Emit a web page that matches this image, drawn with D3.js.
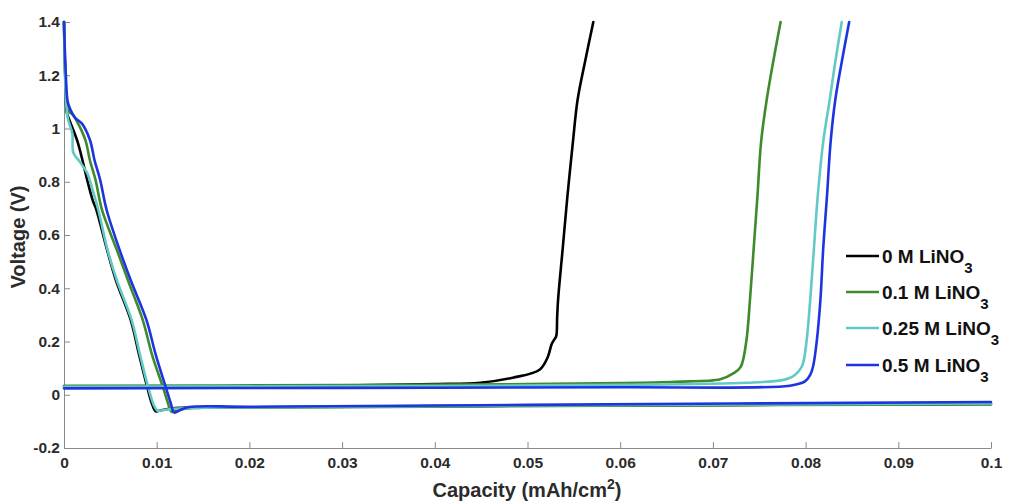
<!DOCTYPE html>
<html>
<head>
<meta charset="utf-8">
<script src="https://cdn.jsdelivr.net/npm/d3@7"></script>
<style>
  body { margin: 0; background: #fff; }
  text { font-family: "Liberation Sans", Arial, Helvetica, sans-serif; font-weight: bold; }
</style>
</head>
<body>
<svg width="1011" height="502"></svg>
<script>
// tick values
const xTicks = [0, 0.01, 0.02, 0.03, 0.04, 0.05, 0.06, 0.07, 0.08, 0.09, 0.1];
const xTickLabels = ['0', '0.01', '0.02', '0.03', '0.04', '0.05', '0.06', '0.07', '0.08', '0.09', '0.1'];
const yTicks = [-0.2, 0, 0.2, 0.4, 0.6, 0.8, 1, 1.2, 1.4];
const yTickLabels = ['-0.2', '0', '0.2', '0.4', '0.6', '0.8', '1', '1.2', '1.4'];

// series names (legend order)
const seriesNames = ['0 M LiNO', '0.1 M LiNO', '0.25 M LiNO', '0.5 M LiNO'];

// discharge curves [capacity, voltage]
const dis0 = [[0,1.4],[0.0002,1.12],[0.0003,1.06],[0.0006,1.03],[0.0014,0.957],[0.002,0.88],[0.0025,0.807],[0.0031,0.73],[0.0035,0.694],
  [0.0046,0.55],[0.0056,0.43],[0.0072,0.28],[0.0081,0.15],[0.009,0.026],[0.0095,-0.035],[0.0099,-0.062],[0.0105,-0.058],[0.012,-0.05],
  [0.02,-0.047],[0.05,-0.041],[0.1,-0.035]];
const dis01 = [[0,1.4],[0.0002,1.15],[0.0004,1.07],[0.001,1.05],[0.0015,1.02],[0.0023,0.957],[0.0028,0.88],[0.0034,0.807],[0.0041,0.694],
  [0.0057,0.544],[0.0069,0.43],[0.0085,0.28],[0.0095,0.15],[0.0107,0.026],[0.0112,-0.03],[0.0116,-0.064],[0.0122,-0.058],[0.014,-0.05],
  [0.03,-0.047],[0.06,-0.041],[0.1,-0.036]];
const dis025 = [[0,1.4],[0.0002,1.12],[0.0004,1.04],[0.0009,0.98],[0.001,0.91],[0.0017,0.875],[0.0025,0.833],[0.003,0.78],[0.0037,0.694],
  [0.0047,0.544],[0.0057,0.43],[0.0073,0.28],[0.0082,0.15],[0.0091,0.026],[0.0097,-0.04],[0.0101,-0.06],[0.0106,-0.058],[0.012,-0.052],
  [0.02,-0.047],[0.05,-0.04],[0.1,-0.033]];
const dis05 = [[0,1.4],[0.0002,1.2],[0.0004,1.1],[0.0007,1.07],[0.0012,1.04],[0.0019,1.02],[0.0028,0.957],[0.0033,0.88],[0.0039,0.807],
  [0.0046,0.694],[0.006,0.544],[0.0072,0.43],[0.0089,0.28],[0.0099,0.15],[0.011,0.026],[0.0115,-0.03],[0.0119,-0.067],[0.0125,-0.058],
  [0.0135,-0.046],[0.02,-0.045],[0.05,-0.038],[0.1,-0.027]];

// charge curves [capacity, voltage]
const chg0 = [[0,0.032],[0.02,0.032],[0.03,0.035],[0.04,0.04],[0.0449,0.045],[0.0484,0.064],[0.0513,0.094],[0.0522,0.143],[0.0526,0.19],
  [0.0529,0.208],[0.0531,0.22],[0.0532,0.293],[0.0533,0.357],[0.0538,0.55],[0.0543,0.743],[0.0549,0.95],[0.0554,1.107],[0.0562,1.25],[0.0571,1.4]];
const chg01 = [[0,0.034],[0.03,0.036],[0.05,0.04],[0.06,0.044],[0.066,0.049],[0.0708,0.058],[0.0722,0.08],[0.073,0.105],[0.0736,0.2],
  [0.074,0.357],[0.0744,0.55],[0.0748,0.743],[0.0752,0.95],[0.0758,1.107],[0.0765,1.25],[0.0773,1.4]];
const chg025 = [[0,0.03],[0.04,0.033],[0.06,0.037],[0.0737,0.045],[0.0775,0.055],[0.0786,0.068],[0.0793,0.09],[0.0797,0.115],[0.0801,0.2],
  [0.0805,0.357],[0.0809,0.55],[0.0813,0.743],[0.0819,0.95],[0.0826,1.107],[0.0832,1.25],[0.0839,1.4]];
const chg05 = [[0,0.024],[0.03,0.026],[0.06,0.028],[0.0783,0.034],[0.0799,0.049],[0.0805,0.075],[0.0808,0.105],[0.0812,0.2],
  [0.0816,0.357],[0.0819,0.55],[0.0823,0.743],[0.0827,0.95],[0.0832,1.107],[0.0839,1.25],[0.0847,1.4]];

const colors = ['#000000', '#3f8a2c', '#63c9c6', '#1e34e0'];
const curves = [
  {i: 0, pts: dis0}, {i: 0, pts: chg0},
  {i: 1, pts: dis01}, {i: 1, pts: chg01},
  {i: 2, pts: dis025}, {i: 2, pts: chg025},
  {i: 3, pts: dis05}, {i: 3, pts: chg05}
];

const svg = d3.select('svg');

const x = d3.scaleLinear().domain([0, 0.1]).range([64, 991]);
const y = d3.scaleLinear().domain([-0.2, 1.4]).range([448, 22]);

const axisColor = '#8a8a8a';
const labelColor = '#2b2b2b';

// axes
const xAxis = svg.append('g')
    .attr('transform', `translate(0,${y(-0.2)})`)
    .call(d3.axisBottom(x).tickValues(xTicks).tickFormat((d, i) => xTickLabels[i]).tickSizeInner(-6).tickSizeOuter(0).tickPadding(9));
const yAxis = svg.append('g')
    .attr('transform', `translate(${x(0)},0)`)
    .call(d3.axisLeft(y).tickValues(yTicks).tickFormat((d, i) => yTickLabels[i]).tickSizeInner(-6).tickSizeOuter(0).tickPadding(4));

[xAxis, yAxis].forEach(g => {
  g.select('.domain').attr('stroke', axisColor);
  g.selectAll('.tick line').attr('stroke', axisColor);
  g.selectAll('.tick text')
      .attr('fill', labelColor)
      .style('font-size', '15.5px')
      .style('font-family', '"Liberation Sans", Arial, sans-serif')
      .style('font-weight', 'bold');
});

// lines
const line = d3.line()
    .x(d => x(d[0]))
    .y(d => y(d[1]))
    .curve(d3.curveCatmullRom.alpha(0.5));

svg.append('g')
  .selectAll('path')
  .data(curves)
  .enter().append('path')
    .attr('d', d => line(d.pts))
    .attr('fill', 'none')
    .attr('stroke', d => colors[d.i])
    .attr('stroke-width', 2.6)
    .attr('stroke-linejoin', 'round')
    .attr('stroke-linecap', 'round');

// axis titles
const xt = svg.append('text')
    .attr('x', 527)
    .attr('y', 497)
    .attr('text-anchor', 'middle')
    .attr('fill', labelColor)
    .style('font-size', '20px');
xt.append('tspan').text('Capacity (mAh/cm');
xt.append('tspan').attr('dy', -8).style('font-size', '14px').text('2');
xt.append('tspan').attr('dy', 8).text(')');

svg.append('text')
    .attr('transform', 'translate(25,237) rotate(-90)')
    .attr('text-anchor', 'middle')
    .attr('fill', labelColor)
    .style('font-size', '20px')
    .text('Voltage (V)');

// legend
const legendY = [256, 292, 328, 365];
const legend = svg.append('g')
  .selectAll('g')
  .data(seriesNames)
  .enter().append('g')
    .attr('transform', (d, i) => `translate(846,${legendY[i]})`);

legend.append('line')
    .attr('x1', 0).attr('x2', 33)
    .attr('stroke', (d, i) => colors[i])
    .attr('stroke-width', 2.6);

const lt = legend.append('text')
    .attr('x', 36)
    .attr('y', 7)
    .attr('fill', '#111')
    .style('font-size', '19px');
lt.append('tspan').text(d => d);
lt.append('tspan').attr('dy', 10).style('font-size', '15px').text('3');
</script>
</body>
</html>
